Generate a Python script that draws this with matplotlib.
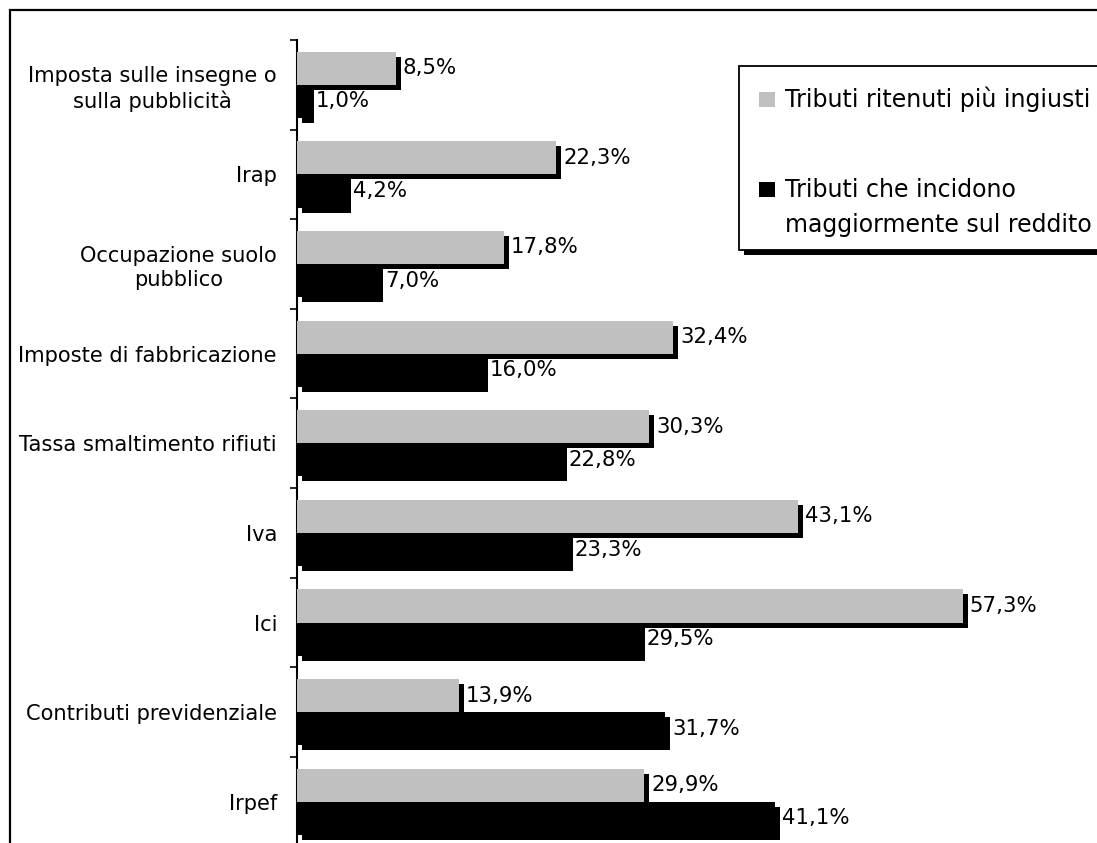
import matplotlib.pyplot as plt
import matplotlib.patheffects as pe
from matplotlib.patches import Rectangle
import numpy as np

categorie = ["Imposta sulle insegne o\nsulla pubblicità", "Irap",
             "Occupazione suolo\npubblico", "Imposte di fabbricazione",
             "Tassa smaltimento rifiuti", "Iva", "Ici",
             "Contributi previdenziale", "Irpef"]
ingiusti = [8.5, 22.3, 17.8, 32.4, 30.3, 43.1, 57.3, 13.9, 29.9]
reddito = [1.0, 4.2, 7.0, 16.0, 22.8, 23.3, 29.5, 31.7, 41.1]

etichette = ["Tributi ritenuti più ingiusti",
             "Tributi che incidono\nmaggiormente sul reddito"]
colori = ["#c0c0c0", "black"]

plt.rcParams["font.family"] = "DejaVu Sans"
W, H = 1097, 843
fig = plt.figure(figsize=(W / 100, H / 100), dpi=100)


def px(x, y):
    # pixel (dall'alto a sinistra) -> coordinate della figura
    return x / W, 1 - y / H


ombra = [pe.SimplePatchShadow(offset=(3.6, -3.6), shadow_rgbFace="black", alpha=1.0),
         pe.Normal()]

# cornice esterna del grafico (tagliata a destra e in basso)
fig.patches.append(Rectangle((10 / W, -0.05), 1.1, 1 - 10 / H + 0.05,
                             transform=fig.transFigure, fill=False,
                             edgecolor="black", linewidth=1.6, zorder=0))

ax = fig.add_axes([297 / W, 1 - 846.6 / H, 70 * 11.62 / W, 806.6 / H])

y = np.arange(len(categorie))
h = 0.37

barre1 = ax.barh(y - h / 2, ingiusti, h, color=colori[0], zorder=3)
barre2 = ax.barh(y + h / 2, reddito, h, color=colori[1], zorder=2)
for b in list(barre1) + list(barre2):
    b.set_path_effects(ombra)


def fmt(v):
    return f"{v:.1f}%".replace(".", ",")


for barre, valori in ((barre1, ingiusti), (barre2, reddito)):
    for b, v in zip(barre, valori):
        ax.annotate(fmt(v), (v, b.get_y() + b.get_height() / 2),
                    xytext=(5, 0), textcoords="offset points",
                    ha="left", va="center", fontsize=15.3, zorder=5)

ax.set_xlim(0, 70)
ax.set_ylim(len(categorie) - 0.5, -0.5)

for lato in ("top", "right", "bottom"):
    ax.spines[lato].set_visible(False)
ax.spines["left"].set_linewidth(1.5)
ax.set_xticks([])

ax.set_yticks(np.arange(len(categorie) + 1) - 0.5)
ax.set_yticklabels([])
ax.tick_params(axis="y", which="major", length=5, width=1.2, direction="out")
ax.set_yticks(y, minor=True)
ax.set_yticklabels(categorie, minor=True, fontsize=15.1, ha="right",
                   multialignment="center", linespacing=1.25)
ax.tick_params(axis="y", which="minor", length=0, pad=14.4)

# legenda con cornice e ombra
x0, y0 = px(739, 250)
riquadro = Rectangle((x0, y0), 1.2 - x0, (250 - 66) / H, transform=fig.transFigure,
                     facecolor="white", edgecolor="black", linewidth=1.3, zorder=5)
riquadro.set_path_effects(ombra)
fig.patches.append(riquadro)

righe_y = [107, 197]
for testo, colore, yb in zip(etichette, colori, righe_y):
    qx, qy = px(759, yb)
    fig.patches.append(Rectangle((qx, qy), 16 / W, 15 / H, transform=fig.transFigure,
                                 facecolor=colore, edgecolor="none", zorder=6))
    for i, riga in enumerate(testo.split("\n")):
        tx, ty = px(785, yb + i * 35)
        fig.text(tx, ty, riga, fontsize=17, ha="left", va="baseline", zorder=7)

fig.savefig("out.png", dpi=100)
